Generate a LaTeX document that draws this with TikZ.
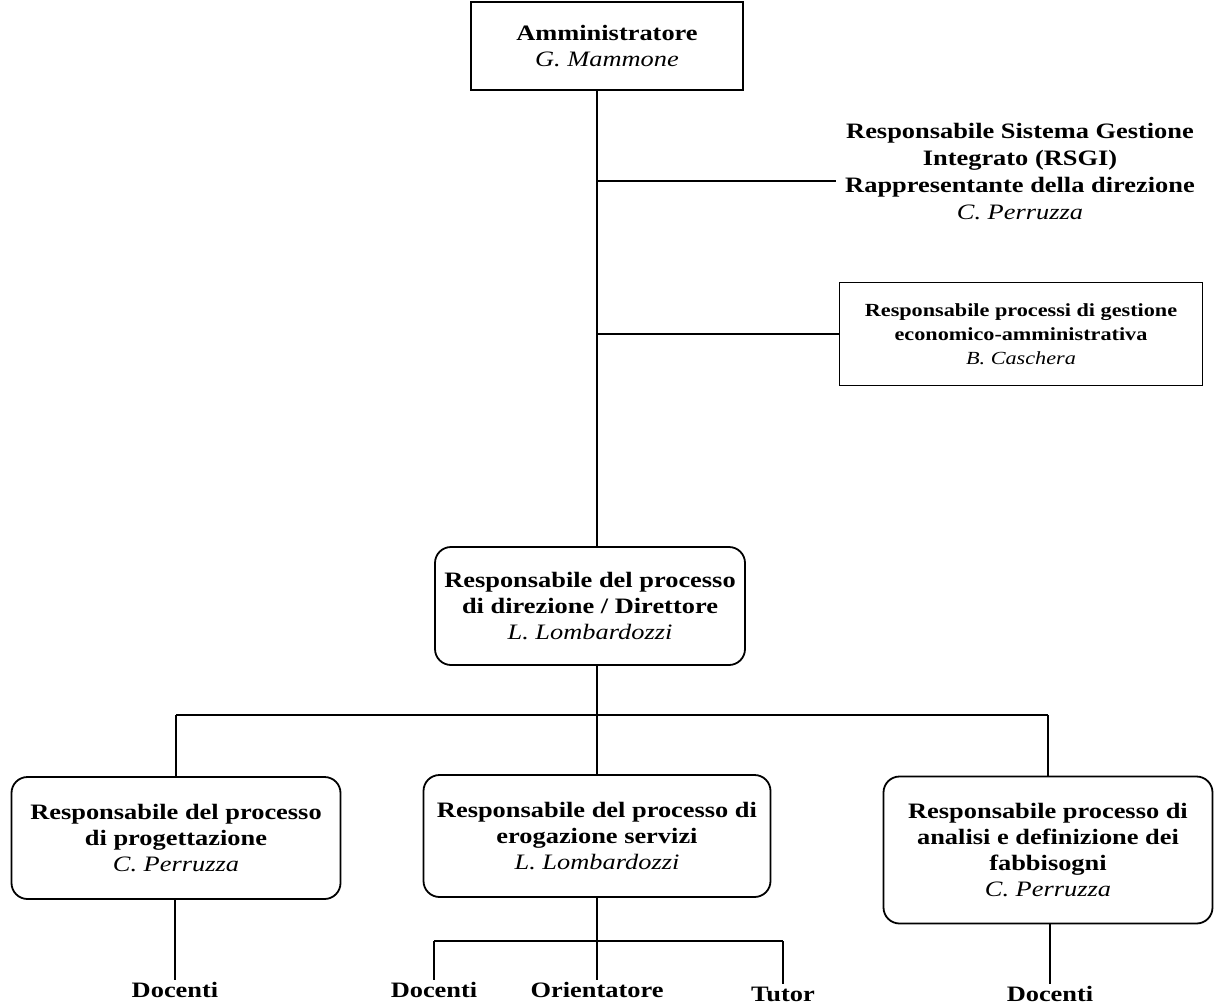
\documentclass[tikz,border=0pt]{standalone}
\usepackage{fontspec}
\setmainfont{Liberation Serif}[FakeStretch=1.2]
\begin{document}
\begin{tikzpicture}[x=1pt,y=-1pt,
  every node/.style={inner sep=2pt, align=center, font=\fontsize{22}{26}\selectfont},
  sqbox/.style={draw, line width=1.5pt},
  rbox/.style={draw, line width=1.8pt, rounded corners=16pt},
  conn/.style={line width=1.5pt},
  lbl/.style={font=\fontsize{22}{26}\selectfont\bfseries}
]
\useasboundingbox (0,0) rectangle (1217,1008);
% nodes
\node[sqbox, minimum width=272pt, minimum height=88pt] (adm) at (607,46)
  {\textbf{Amministratore}\\\textit{G. Mammone}};
\node[font=\fontsize{22}{27}\selectfont] (rsgi) at (1020,172)
  {\textbf{Responsabile Sistema Gestione}\\\textbf{Integrato (RSGI)}\\\textbf{Rappresentante della direzione}\\\textit{C. Perruzza}};
\node[sqbox, minimum width=363pt, minimum height=103pt, font=\fontsize{18.5}{24}\selectfont] (cas) at (1021,334)
  {\textbf{Responsabile processi di gestione}\\\textbf{economico-amministrativa}\\\textit{B. Caschera}};
\node[rbox, minimum width=310pt, minimum height=118pt] (dir) at (590,606)
  {\textbf{Responsabile del processo}\\\textbf{di direzione / Direttore}\\\textit{L. Lombardozzi}};
\node[rbox, minimum width=329pt, minimum height=122pt] (prog) at (176,838)
  {\textbf{Responsabile del processo}\\\textbf{di progettazione}\\\textit{C. Perruzza}};
\node[rbox, minimum width=347pt, minimum height=122pt] (erog) at (597,836)
  {\textbf{Responsabile del processo di}\\\textbf{erogazione servizi}\\\textit{L. Lombardozzi}};
\node[rbox, minimum width=329pt, minimum height=147pt] (fabb) at (1048,850)
  {\textbf{Responsabile processo di}\\\textbf{analisi e definizione dei}\\\textbf{fabbisogni}\\\textit{C. Perruzza}};
\node[lbl] (doc1) at (175,990) {Docenti};
\node[lbl] (doc2) at (434,990) {Docenti};
\node[lbl] (ori) at (597,990) {Orientatore};
\node[lbl] (tut) at (783,994) {Tutor};
\node[lbl] (doc3) at (1050,994) {Docenti};
% helper coordinates
\coordinate (sp) at (597,0);
\coordinate (rsgiend) at (836,181);
\coordinate (bus) at (0,715);
\coordinate (bus2) at (0,941);
% connectors
\draw[conn] (adm.south -| sp) -- (dir.north -| sp);
\draw[conn] (rsgiend -| sp) -- (rsgiend);
\draw[conn] (cas.west -| sp) -- (cas.west);
\draw[conn] (dir.south -| sp) -- (bus -| sp);
\draw[conn] (bus -| prog.north) -- (bus -| fabb.north);
\draw[conn] (bus -| prog.north) -- (prog.north);
\draw[conn] (bus -| sp) -- (erog.north);
\draw[conn] (bus -| fabb.north) -- (fabb.north);
\draw[conn] (prog.south -| doc1) -- (doc1.north);
\draw[conn] (erog.south) -- (bus2 -| erog.south);
\draw[conn] (bus2 -| doc2) -- (bus2 -| tut);
\draw[conn] (bus2 -| doc2) -- (doc2.north);
\draw[conn] (bus2 -| ori) -- (ori.north);
\draw[conn] (bus2 -| tut) -- (tut.north);
\draw[conn] (fabb.south -| doc3) -- (doc3.north);
\end{tikzpicture}
\end{document}
